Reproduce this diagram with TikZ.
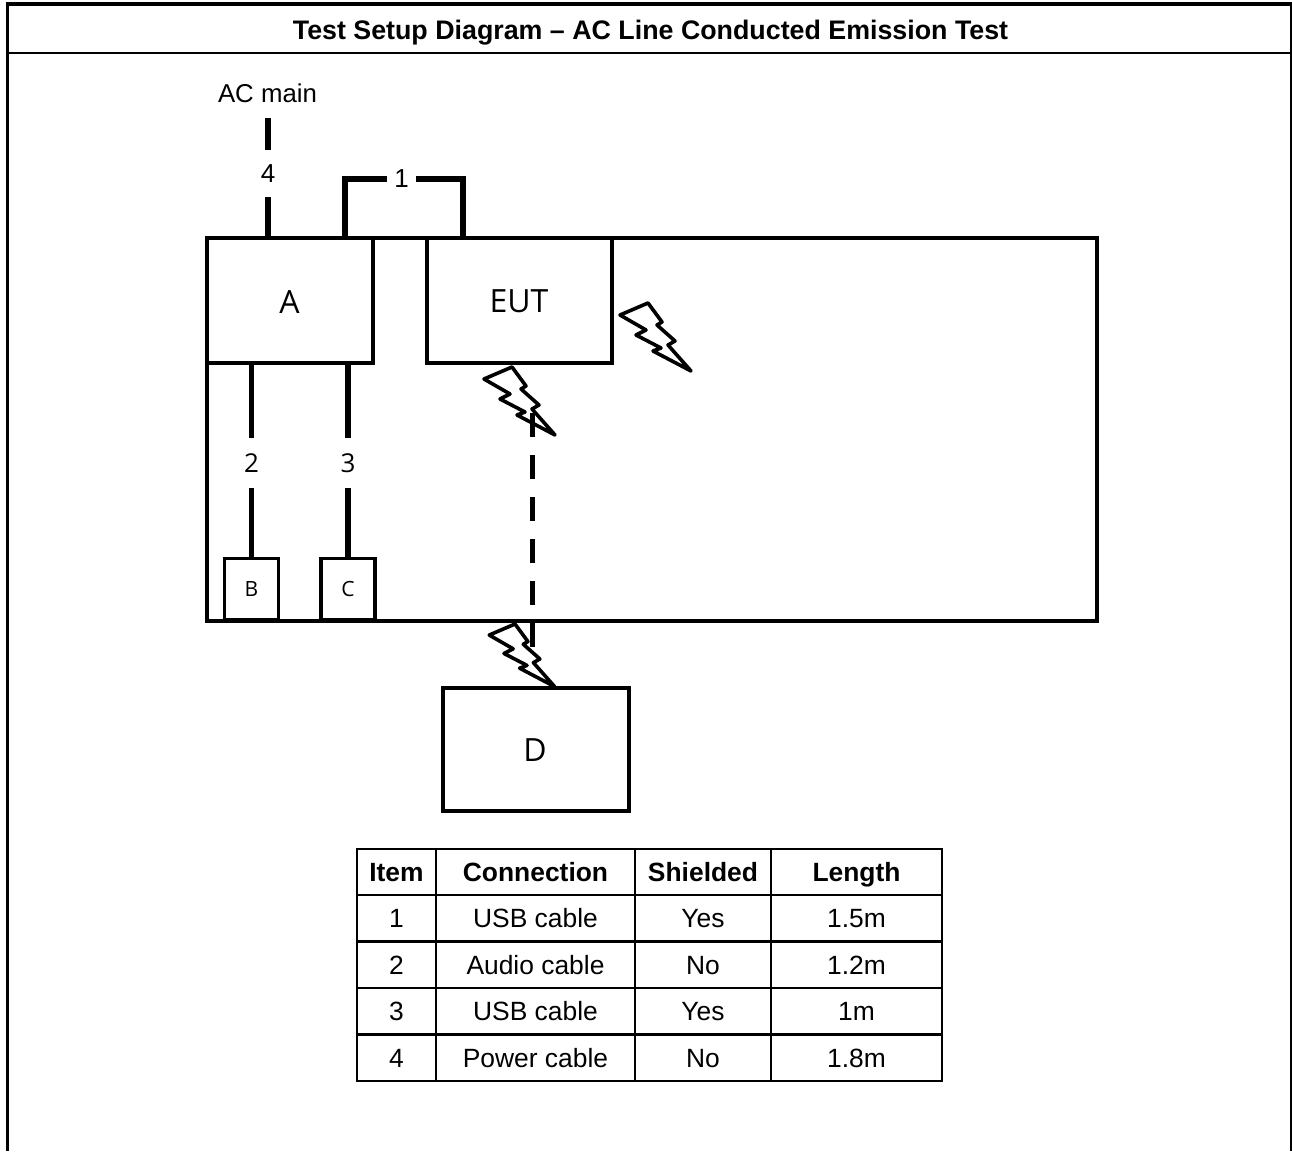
\documentclass[tikz,border=0pt]{standalone}
\usepackage{fontspec}
\setmainfont{Liberation Sans}
\newfontfamily\boxfont{Open Sans}
\usepackage{xcolor}
\usetikzlibrary{positioning, calc}

\begin{document}
\begin{tikzpicture}[
    x=1pt, y=-1pt,
    unit/.style={draw, line width=3.8pt, inner sep=0pt, font=\boxfont\fontsize{32}{36}\selectfont},
    smallunit/.style={draw, line width=3.5pt, inner sep=0pt, minimum width=54pt, minimum height=61pt, font=\boxfont\fontsize{21}{25}\selectfont},
    cable/.style={line width=5.5pt},
    cablelabel/.style={fill=white, inner sep=0pt, font=\fontsize{26}{30}\selectfont},
    cell/.style={draw, line width=2.4pt, inner sep=0pt, minimum height=46.4pt, text height=22pt, text depth=3pt, font=\fontsize{26.4}{30}\selectfont},
    bolt/.pic={
        \draw[line width=3.6pt, line join=round] (0,0) -- (14,19) -- (9,22) -- (27,38) -- (20,42) -- (43,68) -- (5,48) -- (13,45) -- (-12,32) -- (-2,27) -- (-28,12) -- cycle;
    }
]
    \useasboundingbox (0,0) rectangle (1292,1151);

    % Frame
    \draw[line width=3.5pt] (7.5,1151) -- (7.5,4);
    \draw[line width=4pt] (5.7,4) -- (1292,4);
    \draw[line width=1.5pt] (1291,3) -- (1291,1151);
    \draw[line width=2pt] (7,52.5) -- (1291,52.5);
    \node[font=\bfseries\fontsize{26.8}{30}\selectfont] (title) at (650.5,32.5) {Test Setup Diagram -- AC Line Conducted Emission Test};

    % Table top and units
    \node[draw, line width=3.8pt, minimum width=890pt, minimum height=383pt, inner sep=0pt] (bench) at (652,429.5) {};
    \node[unit, minimum width=166pt, minimum height=125pt] (A) at (290,300.5) {};
    \node[font=\boxfont\fontsize{32}{36}\selectfont] (Atext) at (289.5,302) {A};
    \node[unit, minimum width=185pt, minimum height=125pt] (EUT) at (519.5,300.5) {};
    \node[font=\boxfont\fontsize{32}{36}\selectfont] (EUTtext) at (519,301) {EUT};
    \node[unit, minimum width=186pt, minimum height=123pt] (D) at (536,749.5) {};
    \node[font=\boxfont\fontsize{32}{36}\selectfont] (Dtext) at (535,750) {D};
    \node[smallunit] (B) at (251.5,589) {B};
    \node[smallunit] (C) at (348,589) {C};

    % Mains
    \node[font=\fontsize{25.8}{30}\selectfont] (mains) at (267.5,93) {AC main};
    \coordinate (acin) at (268,118);
    \draw[cable] (acin) -- node[cablelabel, pos=.467, minimum width=30pt, minimum height=47pt] {4} (acin |- A.north);

    % Cables
    \coordinate (usba) at (345,238);
    \coordinate (usbe) at (463,238);
    \draw[cable] (usba) -- ++(0,-59) -- node[cablelabel, pos=.48, minimum width=29pt, minimum height=24pt] {1} ++(118,0) -- (usbe);
    \draw[cable] (B.north) -- node[cablelabel, pos=.49, minimum width=30pt, minimum height=50pt, font=\boxfont\fontsize{26}{30}\selectfont] {2} (B.north |- A.south);
    \draw[cable] (C.north) -- node[cablelabel, pos=.49, minimum width=30pt, minimum height=50pt, font=\boxfont\fontsize{26}{30}\selectfont] {3} (C.north |- A.south);

    % Radiation
    \pic at (648,303) {bolt};
    \pic at (512,367) {bolt};
    \pic[scale=.92] at (515,624) {bolt};
    \coordinate (linktop) at (532.5,413);
    \coordinate (linkend) at (532.5,647);
    \draw[cable, dash pattern=on 24pt off 18pt] (linktop) -- (linkend);

    % Connection table
    \foreach \rowy/\rowname/\itm/\conn/\shld/\len in {
        872/h/\textbf{Item}/\textbf{Connection}/\textbf{Shielded}/\textbf{Length},
        918.4/a/1/USB cable/Yes/1.5m,
        965/b/2/Audio cable/No/1.2m,
        1011.4/c/3/USB cable/Yes/1m,
        1058/d/4/Power cable/No/1.8m}{
        \node[cell, minimum width=79.5pt] (item\rowname) at (396.5,\rowy) {\itm};
        \node[cell, minimum width=199pt] (conn\rowname) at (535.5,\rowy) {\conn};
        \node[cell, minimum width=136pt] (shld\rowname) at (703,\rowy) {\shld};
        \node[cell, minimum width=171pt] (len\rowname) at (856.5,\rowy) {\len};
    }
\end{tikzpicture}
\end{document}
